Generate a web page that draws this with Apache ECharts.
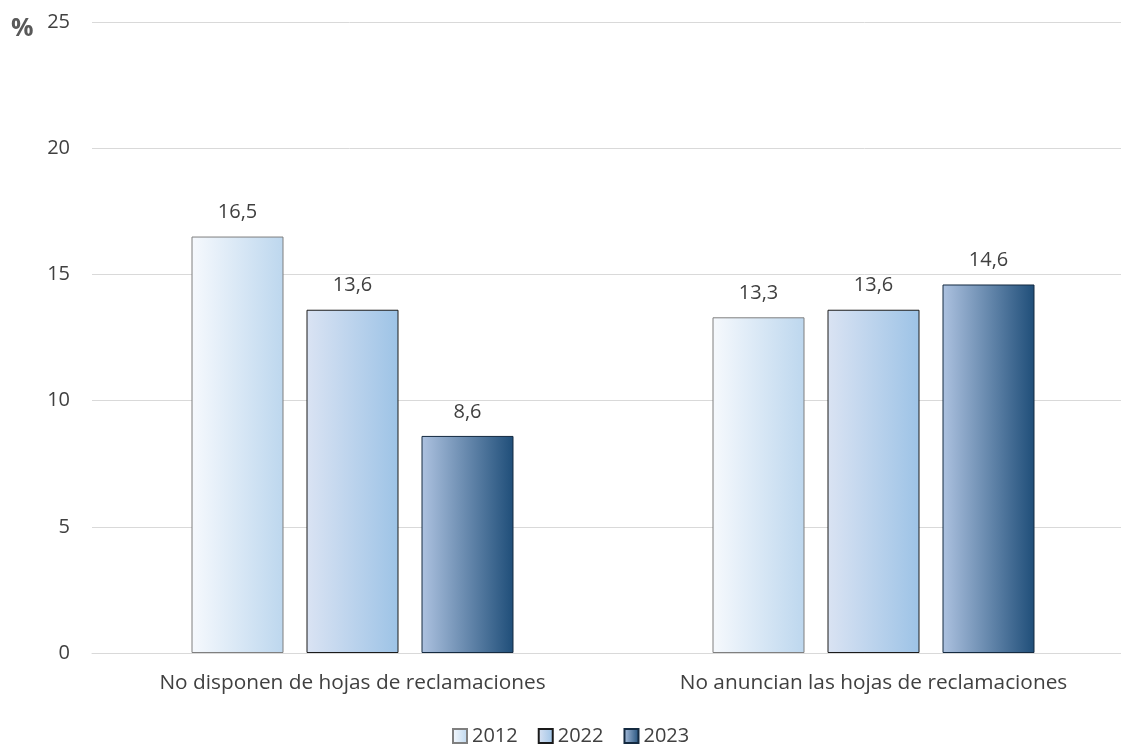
<!DOCTYPE html>
<html>
<head>
    <meta charset="utf-8">
    <title>Hojas de reclamaciones</title>
    <script src="https://cdn.jsdelivr.net/npm/echarts@6/dist/echarts.min.js"></script>
    <style>
        body { margin: 0; background: #fff; }
        #chart { width: 1121px; height: 745px; }
    </style>
</head>
<body>
    <div id="chart"></div>
    <script type="text/javascript">
        var categories = ['No disponen de hojas de reclamaciones', 'No anuncian las hojas de reclamaciones'];
        var years = ['2012', '2022', '2023'];
        var values2012 = [16.5, 13.3];
        var values2022 = [13.6, 13.6];
        var values2023 = [8.6, 14.6];
        var yTicks = [0, 5, 10, 15, 20, 25];

        function grad(a, b) {
            return new echarts.graphic.LinearGradient(0, 0, 1, 0, [
                { offset: 0, color: a },
                { offset: 1, color: b }
            ]);
        }

        var styles = [
            { color: grad('#f6f9fd', '#bdd7ee'), borderColor: '#7f7f7f' },
            { color: grad('#dae3f3', '#9dc3e6'), borderColor: '#1a1a1a' },
            { color: grad('#adc2e0', '#1f4e79'), borderColor: '#142a40' }
        ];
        var data = [values2012, values2022, values2023];

        var myChart = echarts.init(document.getElementById('chart'));

        var series = years.map(function (y, i) {
            return {
                name: y,
                type: 'bar',
                barWidth: 92,
                barGap: '25%',
                data: data[i],
                itemStyle: {
                    color: styles[i].color,
                    borderColor: styles[i].borderColor,
                    borderWidth: 1
                },
                label: {
                    show: true,
                    position: 'top',
                    distance: 14,
                    color: '#404040',
                    fontSize: 20,
                    fontFamily: 'Open Sans',
                    formatter: function (p) { return String(p.value).replace('.', ','); }
                }
            };
        });

        var option = {
            animation: false,
            textStyle: { fontFamily: 'Open Sans' },
            graphic: [{
                type: 'text',
                left: 11,
                top: 16,
                style: { text: '%', fontSize: 25, fontWeight: 'bold', fill: '#595959', fontFamily: 'Open Sans' }
            }],
            legend: {
                bottom: -6,
                left: 447,
                icon: 'rect',
                itemWidth: 14,
                itemHeight: 14,
                itemGap: 20,
                textStyle: { color: '#404040', fontSize: 20, fontFamily: 'Open Sans' },
                data: years
            },
            grid: {
                left: 92,
                top: 22,
                width: 1042,
                bottom: 92,
                containLabel: false,
                outerBoundsMode: 'none'
            },
            xAxis: {
                type: 'category',
                data: categories,
                axisTick: { show: false },
                axisLine: { lineStyle: { color: '#d9d9d9', width: 1 } },
                axisLabel: { color: '#404040', fontSize: 20.8, margin: 20 }
            },
            yAxis: {
                type: 'value',
                min: yTicks[0],
                max: yTicks[yTicks.length - 1],
                interval: 5,
                axisLine: { show: false },
                axisTick: { show: false },
                splitLine: { lineStyle: { color: '#d9d9d9', width: 1 } },
                axisLabel: { color: '#404040', fontSize: 20, margin: 22 }
            },
            series: series
        };

        myChart.setOption(option);
    </script>
</body>
</html>
